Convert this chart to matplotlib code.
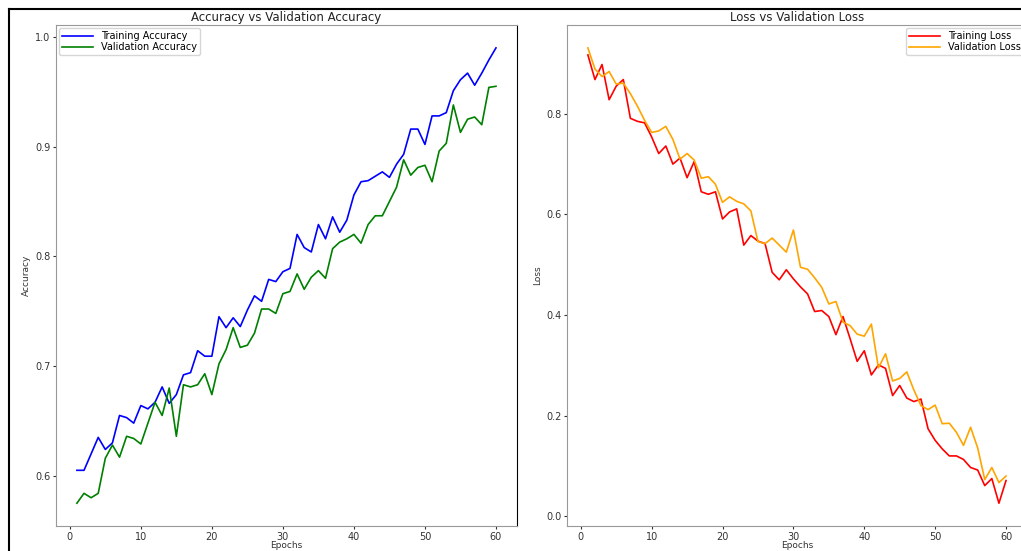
import matplotlib
matplotlib.use('Agg')
import matplotlib.pyplot as plt
from matplotlib.lines import Line2D

epochs = list(range(1, 61))

train_acc = [0.605, 0.605, 0.620, 0.635, 0.624, 0.630, 0.655, 0.653, 0.648, 0.664,
             0.661, 0.667, 0.681, 0.666, 0.674, 0.692, 0.694, 0.714, 0.709, 0.709,
             0.745, 0.735, 0.744, 0.736, 0.751, 0.764, 0.759, 0.779, 0.777, 0.786,
             0.789, 0.820, 0.808, 0.804, 0.829, 0.816, 0.836, 0.822, 0.833, 0.856,
             0.868, 0.869, 0.873, 0.877, 0.872, 0.884, 0.893, 0.916, 0.916, 0.902,
             0.928, 0.928, 0.931, 0.951, 0.961, 0.967, 0.956, 0.967, 0.979, 0.990]
val_acc = [0.575, 0.584, 0.580, 0.584, 0.616, 0.628, 0.617, 0.636, 0.634, 0.629,
           0.648, 0.667, 0.655, 0.680, 0.636, 0.683, 0.681, 0.683, 0.693, 0.674,
           0.702, 0.715, 0.735, 0.717, 0.719, 0.730, 0.752, 0.752, 0.748, 0.766,
           0.768, 0.784, 0.770, 0.781, 0.787, 0.780, 0.807, 0.813, 0.816, 0.820,
           0.812, 0.829, 0.837, 0.837, 0.850, 0.863, 0.888, 0.874, 0.881, 0.883,
           0.868, 0.896, 0.903, 0.938, 0.913, 0.925, 0.927, 0.920, 0.954, 0.955]

train_loss = [0.917, 0.868, 0.898, 0.828, 0.855, 0.868, 0.791, 0.785, 0.782, 0.754,
              0.721, 0.736, 0.700, 0.712, 0.673, 0.705, 0.645, 0.640, 0.645, 0.591,
              0.605, 0.611, 0.539, 0.558, 0.547, 0.542, 0.485, 0.470, 0.490, 0.472,
              0.456, 0.442, 0.407, 0.409, 0.397, 0.361, 0.397, 0.353, 0.308, 0.329,
              0.281, 0.301, 0.294, 0.240, 0.260, 0.235, 0.228, 0.233, 0.174, 0.151,
              0.134, 0.120, 0.120, 0.113, 0.097, 0.092, 0.061, 0.075, 0.026, 0.071]
val_loss = [0.931, 0.889, 0.874, 0.884, 0.859, 0.861, 0.840, 0.815, 0.787, 0.763,
            0.766, 0.775, 0.749, 0.710, 0.721, 0.708, 0.672, 0.675, 0.660, 0.624,
            0.635, 0.626, 0.621, 0.607, 0.546, 0.542, 0.553, 0.539, 0.525, 0.569,
            0.495, 0.491, 0.474, 0.455, 0.422, 0.427, 0.386, 0.379, 0.362, 0.358,
            0.382, 0.295, 0.323, 0.269, 0.274, 0.287, 0.251, 0.220, 0.212, 0.221,
            0.184, 0.185, 0.167, 0.141, 0.177, 0.136, 0.073, 0.097, 0.067, 0.080]

plt.rcParams['font.family'] = ['DejaVu Sans']
fig = plt.figure(figsize=(10.21, 5.51), dpi=100)

ax1 = fig.add_axes([0.0548, 0.0454, 0.4515, 0.909])
ax2 = fig.add_axes([0.5553, 0.0454, 0.4505, 0.909])

ax1.plot(epochs, train_acc, color='blue', lw=1.2, label='Training Accuracy')
ax1.plot(epochs, val_acc, color='green', lw=1.2, label='Validation Accuracy')
ax1.set_title('Accuracy vs Validation Accuracy', fontsize=8.5, pad=3, color='#222222')
ax1.set_xlabel('Epochs', fontsize=6.5, labelpad=-0.5, color='#333333')
ax1.set_ylabel('Accuracy', fontsize=6.5, labelpad=3, color='#333333')
ax1.set_yticks([0.6, 0.7, 0.8, 0.9, 1.0])
ax1.legend(loc='upper left', fontsize=7, handlelength=3.2, borderpad=0.3,
           labelspacing=0.15, borderaxespad=0.3)

ax2.plot(epochs, train_loss, color='red', lw=1.2, label='Training Loss')
ax2.plot(epochs, val_loss, color='orange', lw=1.2, label='Validation Loss')
ax2.set_title('Loss vs Validation Loss', fontsize=8.5, pad=3, color='#222222')
ax2.set_xlabel('Epochs', fontsize=6.5, labelpad=-0.5, color='#333333')
ax2.set_ylabel('Loss', fontsize=6.5, labelpad=3, color='#333333')
ax2.set_yticks([0.0, 0.2, 0.4, 0.6, 0.8])
ax2.legend(loc='upper right', fontsize=7, handlelength=3.2, borderpad=0.3,
           labelspacing=0.15, borderaxespad=0.3)

for ax in (ax1, ax2):
    ax.set_xticks([0, 10, 20, 30, 40, 50, 60])
    ax.tick_params(labelsize=7, length=2.5, pad=1.5, colors='#333333')
    for s in ax.spines.values():
        s.set_color('#999999')
ax1.spines['right'].set_color('black')

# black frame of the screenshot
fig.add_artist(Line2D([9 / 1021, 1], [1 - 9 / 551, 1 - 9 / 551], color='black', lw=1.5))
fig.add_artist(Line2D([9 / 1021, 9 / 1021], [0, 1 - 9 / 551], color='black', lw=1.5))

fig.savefig('out.png', dpi=100)
